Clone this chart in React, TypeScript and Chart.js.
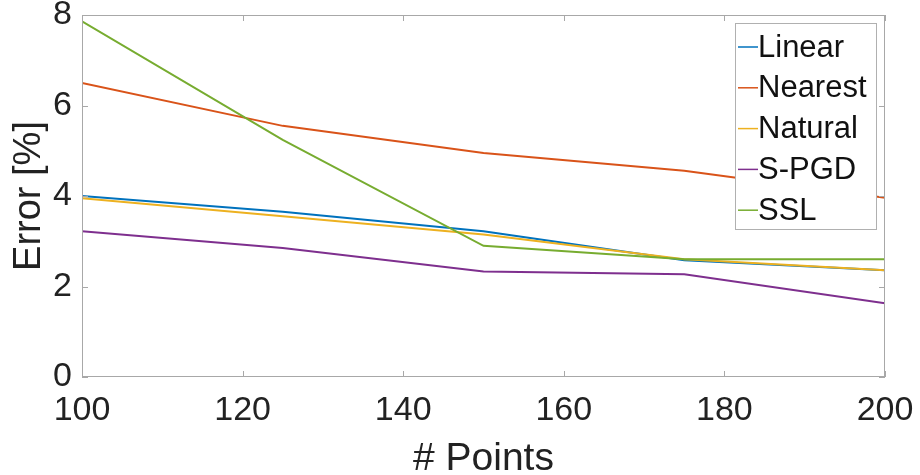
import React, { useEffect, useRef } from "react";
import { Chart, registerables } from "chart.js";

Chart.register(...registerables);

const xValues = [100, 125, 150, 175, 200];
const linearErr = [4.0, 3.65, 3.22, 2.58, 2.36];
const nearestErr = [6.5, 5.55, 4.95, 4.56, 3.96];
const naturalErr = [3.95, 3.55, 3.15, 2.6, 2.36];
const spgdErr = [3.22, 2.85, 2.33, 2.27, 1.63];
const sslErr = [7.86, 5.24, 2.9, 2.6, 2.6];
const seriesNames = ["Linear", "Nearest", "Natural", "S-PGD", "SSL"];
const seriesColors = ["#0072BD", "#D95319", "#EDB120", "#7E2F8E", "#77AC30"];
const xTicks = [100, 120, 140, 160, 180, 200];
const yTicks = [0, 2, 4, 6, 8];

const FONT = "'Liberation Sans', Arial, Helvetica, sans-serif";

const boxPlugin = {
  id: "matlabBox",
  afterDatasetsDraw(chart: any) {
    const { ctx, chartArea: a, scales } = chart;
    ctx.save();
    ctx.strokeStyle = "#a8a8a8";
    ctx.lineWidth = 1;
    ctx.strokeRect(a.left + 0.5, a.top + 0.5, a.right - a.left - 1, a.bottom - a.top - 1);
    ctx.beginPath();
    const tl = 6;
    for (const v of xTicks) {
      const px = Math.round(scales.x.getPixelForValue(v)) + 0.5;
      ctx.moveTo(px, a.bottom);
      ctx.lineTo(px, a.bottom - tl);
      ctx.moveTo(px, a.top);
      ctx.lineTo(px, a.top + tl);
    }
    for (const v of yTicks) {
      const py = Math.round(scales.y.getPixelForValue(v)) + 0.5;
      ctx.moveTo(a.left, py);
      ctx.lineTo(a.left + tl, py);
      ctx.moveTo(a.right, py);
      ctx.lineTo(a.right - tl, py);
    }
    ctx.stroke();
    ctx.restore();
  },
};

const legendPlugin = {
  id: "matlabLegend",
  afterDraw(chart: any) {
    const { ctx } = chart;
    const left = 735;
    const top = 23;
    const w = 141;
    const h = 206;
    ctx.save();
    ctx.fillStyle = "#ffffff";
    ctx.fillRect(left, top, w, h);
    ctx.strokeStyle = "#b0b0b0";
    ctx.lineWidth = 1;
    ctx.strokeRect(left + 0.5, top + 0.5, w, h);
    ctx.font = `31px ${FONT}`;
    ctx.textBaseline = "middle";
    ctx.textAlign = "left";
    chart.data.datasets.forEach((ds: any, i: number) => {
      const cy = top + 24 + i * 40.8;
      ctx.strokeStyle = ds.borderColor;
      ctx.lineWidth = 1.5;
      ctx.beginPath();
      ctx.moveTo(left + 3, cy);
      ctx.lineTo(left + 23, cy);
      ctx.stroke();
      ctx.fillStyle = "#111111";
      ctx.fillText(ds.label, left + 23, cy + 1);
    });
    ctx.restore();
  },
};

export default function App() {
  const ref = useRef<HTMLCanvasElement | null>(null);
  useEffect(() => {
    if (!ref.current) return;
    const all = [linearErr, nearestErr, naturalErr, spgdErr, sslErr];
    const chart = new Chart(ref.current, {
      type: "line",
      data: {
        datasets: all.map((vals, i) => ({
          label: seriesNames[i],
          data: xValues.map((x, j) => ({ x, y: vals[j] })),
          borderColor: seriesColors[i],
          backgroundColor: seriesColors[i],
          borderWidth: 2,
          pointRadius: 0,
          tension: 0,
          fill: false,
          order: all.length - i,
        })),
      },
      options: {
        responsive: false,
        animation: false,
        layout: { padding: { top: 15, right: 35, left: 0, bottom: 0 } },
        plugins: {
          legend: { display: false },
          tooltip: { enabled: false },
        },
        scales: {
          x: {
            type: "linear",
            min: 100,
            max: 200,
            afterBuildTicks: (s: any) => {
              s.ticks = xTicks.map((v) => ({ value: v }));
            },
            afterFit: (s: any) => {
              s.height = 98;
              s.paddingLeft = 0;
              s.paddingRight = 0;
            },
            grid: { display: false, drawTicks: false },
            border: { display: false },
            ticks: {
              padding: 17,
              maxRotation: 0,
              autoSkip: false,
              color: "#222222",
              font: { family: FONT, size: 34, lineHeight: 1 },
            },
            title: {
              display: true,
              text: "# Points",
              color: "#222222",
              padding: { top: 0, bottom: 0 },
              font: { family: FONT, size: 39, lineHeight: 0.8 },
            },
          },
          y: {
            type: "linear",
            min: 0,
            max: 8,
            afterBuildTicks: (s: any) => {
              s.ticks = yTicks.map((v) => ({ value: v }));
            },
            afterFit: (s: any) => {
              s.width = 82;
              s.paddingTop = 0;
              s.paddingBottom = 0;
            },
            grid: { display: false, drawTicks: false },
            border: { display: false },
            ticks: {
              padding: 10,
              color: "#222222",
              font: { family: FONT, size: 34, lineHeight: 1 },
            },
            title: {
              display: true,
              text: "Error [%]",
              color: "#222222",
              padding: { top: 11, bottom: 0 },
              font: { family: FONT, size: 38, lineHeight: 1 },
            },
          },
        },
      },
      plugins: [boxPlugin, legendPlugin],
    });
    return () => chart.destroy();
  }, []);
  return (
    <div style={{ position: "absolute", left: 0, top: 0, width: 920, height: 475, background: "#ffffff" }}>
      <canvas ref={ref} width={920} height={475} style={{ display: "block" }} />
    </div>
  );
}
